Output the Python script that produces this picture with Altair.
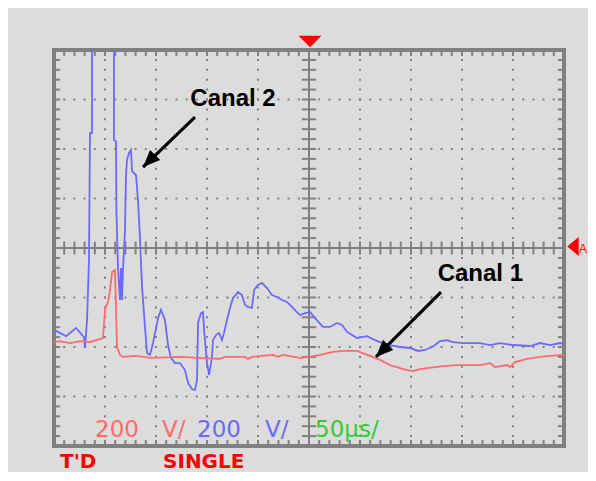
import altair as alt
import pandas as pd
import numpy as np

# Oscilloscope capture: 50 µs/div horizontally, 200 V/div vertically
# Canal 2 (blue trace)
blue_t = [0, 11.8, 21.6, 29.4, 30.4, 32.4, 34.3, 35.3, 37.3, 37.3,
          58.8, 58.8, 60.8, 61.2, 62.7, 64.7, 65.7, 66.7, 67.6, 69.6,
          70.6, 71.6, 73.5, 75.5, 76.5, 80.4, 82.4, 84.3, 86.3, 89.2,
          91.2, 94.1, 97.1, 102, 104.9, 108.8, 111.8, 114.7, 118.6, 123.5,
          128.4, 131.4, 135.3, 138.2, 140.2, 141.2, 144.1, 146.1, 147.1, 150,
          152, 154.9, 155.9, 158.8, 161.8, 164.7, 166.7, 169.6, 172.5, 175.5,
          180.4, 184.3, 187.3, 190.2, 194.1, 196.1, 200, 203.9, 208.8, 213.7,
          218.6, 223.5, 228.4, 233.3, 238.2, 241.2, 246.1, 251, 255.9, 263.7,
          270.6, 277.5, 282.4, 287.3, 297.1, 302, 306.9, 312.7, 319.6, 329.4,
          339.2, 349, 356.9, 363.7, 370.6, 373.5, 378.4, 385.3, 391.2, 401,
          417.6, 427.5, 437.3, 450, 466.7, 476.5, 486.3, 496.1, 500]
blue_v = [-331, -356, -323, -360, -404, -291, -48, 465, 465, 900,
          900, 436, 430, 150, -77, -210, -81, -210, -89, 73,
          295, 355, 384, 396, 311, 295, 190, 40, -158, -319,
          -424, -432, -384, -283, -250, -291, -392, -444, -465, -465,
          -493, -545, -570, -574, -533, -303, -263, -259, -331, -465,
          -513, -440, -372, -352, -343, -372, -343, -291, -242, -202,
          -178, -190, -230, -238, -242, -170, -149, -141, -162, -190,
          -198, -210, -218, -238, -259, -271, -263, -259, -283, -319,
          -319, -303, -311, -339, -364, -360, -356, -368, -380, -392,
          -400, -404, -416, -412, -400, -392, -376, -372, -380, -384,
          -384, -392, -384, -392, -396, -384, -392, -384, -388]

# Canal 1 (red trace)
red_t = [0, 5.9, 15.7, 25.5, 35.3, 41.2, 48, 50, 51, 52.9,
         54.9, 56.9, 59.8, 60.8, 61.8, 64.7, 67.6, 80.4, 95.1, 123.5,
         162.7, 167.6, 187.3, 190.2, 194.1, 214.7, 219.6, 224.5, 241.2, 251,
         260.8, 273.5, 283.3, 297.1, 302, 309.8, 319.6, 329.4, 336.3, 342.2,
         352, 358.8, 365.7, 373.5, 381.4, 395.1, 417.6, 427.5, 432.4, 444.1,
         447.1, 452, 463.7, 476.5, 486.3, 500]
red_v = [-380, -376, -384, -376, -380, -372, -364, -250, -238, -218,
         -170, -97, -89, -250, -400, -432, -440, -436, -444, -440,
         -448, -440, -440, -448, -440, -432, -440, -432, -444, -440,
         -432, -420, -416, -416, -424, -436, -452, -473, -481, -489,
         -497, -489, -485, -481, -477, -473, -473, -465, -481, -473,
         -481, -461, -448, -440, -436, -432]

# Screen labels
scale_labels = ["200", "V/", "200", "V/", "50µs/"]
scale_colors = ["#ff6a6a", "#ff6a6a", "#6a6aff", "#6a6aff", "#33cc33"]
scale_t = [40.2, 105.9, 140.2, 206.9, 255.9]
status_labels = ["T'D", "SINGLE"]
status_t = [5.9, 106.9]
annot_labels = ["Canal 2", "Canal 1"]
annot_t = [175.5, 418.0]
annot_v = [574, -133]
arrow_t0 = [138.2, 379.4]
arrow_v0 = [529, -178]
arrow_t1 = [87.3, 315.7]
arrow_v1 = [327, -440]

T_DIV, V_DIV = 50, 200
xs = alt.Scale(domain=[0, 10 * T_DIV], nice=False, zero=False)
ys = alt.Scale(domain=[-4 * V_DIV, 4 * V_DIV], nice=False, zero=False)
X = lambda f: alt.X(f, type="quantitative", scale=xs, axis=None)
Y = lambda f: alt.Y(f, type="quantitative", scale=ys, axis=None)
GRAY = "#808080"

# dotted graticule
dots = []
for gx in [50, 100, 150, 200, 300, 350, 400, 450]:
    for gy in np.arange(-760, 761, 40):
        dots.append((gx, gy))
for gy in [-600, -400, -200, 200, 400, 600]:
    for gx in np.arange(10, 491, 10):
        if gx != 250:
            dots.append((gx, gy))
dots_df = pd.DataFrame(dots, columns=["t", "v"])

# tick marks on frame and centre lines
tk = []
for gx in np.arange(10, 491, 10):
    tk.append((gx, gx, 800, 776))
    tk.append((gx, gx, -800, -776))
    tk.append((gx, gx, -26, 26))
for gy in np.arange(-760, 761, 40):
    tk.append((0, 6, gy, gy))
    tk.append((500, 494, gy, gy))
    tk.append((243, 257, gy, gy))
ticks_df = pd.DataFrame(tk, columns=["t", "t2", "v", "v2"])

center_df = pd.DataFrame({"t": [250, 0], "t2": [250, 500], "v": [-800, 0], "v2": [800, 0]})

blue_df = pd.DataFrame({"t": blue_t, "v": blue_v, "i": range(len(blue_t))})
red_df = pd.DataFrame({"t": red_t, "v": red_v, "i": range(len(red_t))})

dots_layer = alt.Chart(dots_df).mark_square(size=4, color=GRAY, opacity=1).encode(x=X("t"), y=Y("v"))
ticks_layer = alt.Chart(ticks_df).mark_rule(color=GRAY, strokeWidth=2).encode(
    x=X("t"), x2="t2", y=Y("v"), y2="v2")
center_layer = alt.Chart(center_df).mark_rule(color=GRAY, strokeWidth=2).encode(
    x=X("t"), x2="t2", y=Y("v"), y2="v2")

blue_layer = alt.Chart(blue_df).mark_line(color="#6a6aff", strokeWidth=1.8, clip=True).encode(
    x=X("t"), y=Y("v"), order="i:Q")
red_layer = alt.Chart(red_df).mark_line(color="#ff6a6a", strokeWidth=1.8, clip=True).encode(
    x=X("t"), y=Y("v"), order="i:Q")

scale_df = pd.DataFrame({"t": scale_t, "v": [-764] * 5, "txt": scale_labels, "c": scale_colors})
scale_layer = alt.Chart(scale_df).mark_text(font="DejaVu Sans", fontSize=23, align="left",
                                             baseline="alphabetic").encode(
    x=X("t"), y=Y("v"), text="txt:N", color=alt.Color("c:N", scale=None))

status_df = pd.DataFrame({"t": status_t, "v": [-888, -888], "txt": status_labels})
status_layer = alt.Chart(status_df).mark_text(font="DejaVu Sans", fontWeight="bold", fontSize=20,
                                               align="left", baseline="alphabetic", color="#ff0000").encode(
    x=X("t"), y=Y("v"), text="txt:N")

annot_df = pd.DataFrame({"t": annot_t, "v": annot_v, "txt": annot_labels})
annot_layer = alt.Chart(annot_df).mark_text(font="Liberation Sans", fontWeight="bold", fontSize=24,
                                             align="center", baseline="alphabetic", color="black").encode(
    x=X("t"), y=Y("v"), text="txt:N")

arrow_df = pd.DataFrame({"t": arrow_t0, "v": arrow_v0, "t2": arrow_t1, "v2": arrow_v1})
arrow_line = alt.Chart(arrow_df).mark_rule(color="black", strokeWidth=3.2).encode(
    x=X("t"), y=Y("v"), x2="t2", y2="v2")
head_df = pd.DataFrame({"t": arrow_t1, "v": arrow_v1})
arrow_head = alt.Chart(head_df).mark_point(
    shape="M0,0 L0.8,1.9 L-0.8,1.9 Z", size=324, filled=True, color="black", opacity=1, angle=225
).encode(x=X("t"), y=Y("v"))

trig_df = pd.DataFrame({"t": [251.0], "v": [834]})
trig_layer = alt.Chart(trig_df).mark_point(
    shape="M-1,-0.5 L1,-0.5 L0,0.5 Z", size=529, filled=True, color="#ff0000", opacity=1
).encode(x=X("t"), y=Y("v"))

lvl_df = pd.DataFrame({"t": [508.8], "v": [6]})
lvl_layer = alt.Chart(lvl_df).mark_point(
    shape="M-0.6,0 L0.6,-1 L0.6,1 Z", size=361, filled=True, color="#ff0000", opacity=1
).encode(x=X("t"), y=Y("v"))
lvl_txt = alt.Chart(pd.DataFrame({"t": [514.7], "v": [-20], "txt": ["A"]})).mark_text(
    font="Liberation Sans", fontSize=12, align="left", baseline="alphabetic", color="#ff0000"
).encode(x=X("t"), y=Y("v"), text="txt:N")

chart = alt.layer(
    dots_layer, ticks_layer, center_layer, blue_layer, red_layer,
    scale_layer, status_layer, arrow_line, arrow_head, annot_layer,
    trig_layer, lvl_layer, lvl_txt
).properties(
    width=510, height=396,
    autosize=alt.AutoSizeParams(type="none"),
    padding={"left": 46, "top": 42, "right": 24, "bottom": 26},
    background="#dcdcdc",
).configure_view(stroke=GRAY, strokeWidth=4, fill="#dcdcdc")

chart.save("out.html", embed_options={"renderer": "svg", "actions": False})
